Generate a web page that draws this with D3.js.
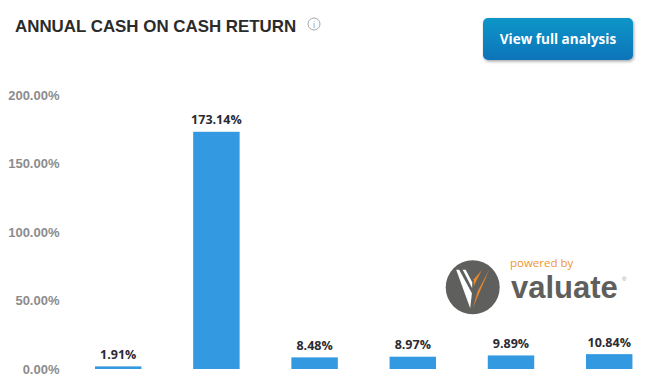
<!DOCTYPE html>
<html>
<head>
<meta charset="utf-8">
<script src="https://cdn.jsdelivr.net/npm/d3@7"></script>
<style>
  html, body { margin: 0; padding: 0; background: #fff; overflow: hidden; }
  text { font-family: "Liberation Sans", Arial, sans-serif; }
</style>
</head>
<body>
<div id="chart"></div>
<script>
// -------- Data --------
const periods = ['Year 1', 'Year 2', 'Year 3', 'Year 4', 'Year 5', 'Year 6'];
const returns = [1.91, 173.14, 8.48, 8.97, 9.89, 10.84];
const yTicks = [0, 50, 100, 150, 200];

// -------- Dimensions --------
const svgWidth = 646;
const svgHeight = 384;

const svg = d3.select('#chart')
  .append('svg')
    .attr('width', svgWidth)
    .attr('height', svgHeight);

// -------- Gradients --------
const defs = svg.append('defs');
const grad = defs.append('linearGradient')
    .attr('id', 'btn')
    .attr('x1', 0).attr('y1', 0).attr('x2', 0).attr('y2', 1);
grad.append('stop').attr('offset', '0%').attr('stop-color', '#1196c8');
grad.append('stop').attr('offset', '100%').attr('stop-color', '#0f74b9');

const shadow = defs.append('filter')
    .attr('id', 'btn-shadow')
    .attr('x', '-10%').attr('y', '-20%').attr('width', '120%').attr('height', '150%');
shadow.append('feDropShadow')
    .attr('dx', 1).attr('dy', 1.5)
    .attr('stdDeviation', 1.5)
    .attr('flood-color', '#000')
    .attr('flood-opacity', 0.35);

// -------- Scales --------
const xScale = d3.scaleBand()
  .domain(periods)
  .range([69.1, 658.3])
  .paddingInner(0.527)
  .paddingOuter(0.2635);

const yScale = d3.scaleLinear()
  .domain([0, 200])
  .range([369, 95]);

// -------- Title --------
svg.append('text')
    .attr('x', 15)
    .attr('y', 32)
    .attr('fill', '#2b2b2b')
    .style('font-size', '16.9px')
    .style('font-weight', 'bold')
    .text('ANNUAL CASH ON CASH RETURN');

// info icon
const info = svg.append('g').attr('transform', 'translate(314,24)');
info.append('circle')
    .attr('r', 6)
    .attr('fill', 'none')
    .attr('stroke', '#a5a5a5')
    .attr('stroke-width', 1);
info.append('text')
    .attr('text-anchor', 'middle')
    .attr('y', 3.5)
    .attr('fill', '#999')
    .style('font-size', '9px')
    .text('i');

// -------- Button --------
svg.append('rect')
    .attr('x', 483)
    .attr('y', 18)
    .attr('width', 150)
    .attr('height', 42)
    .attr('rx', 5)
    .attr('fill', 'url(#btn)')
    .attr('filter', 'url(#btn-shadow)');
svg.append('text')
    .attr('x', 558)
    .attr('y', 44)
    .attr('text-anchor', 'middle')
    .attr('fill', '#fff')
    .style('font-size', '13.5px')
    .style('font-weight', 'bold')
    .style('font-family', '"Open Sans", sans-serif')
    .text('View full analysis');

// -------- Y Axis --------
const yAxis = d3.axisLeft(yScale)
  .tickValues(yTicks)
  .tickSize(0)
  .tickPadding(0)
  .tickFormat(d => d3.format('.2f')(d) + '%');

const yAxisGroup = svg.append('g')
    .attr('transform', 'translate(59.5,0)')
    .call(yAxis);
yAxisGroup.select('.domain').remove();
yAxisGroup.selectAll('text')
    .attr('fill', '#8c8c8c')
    .style('font-size', '13px')
    .style('font-weight', 'bold')
    .style('font-family', '"Liberation Sans", Arial, sans-serif');

// -------- Bars --------
const bars = periods.map((p, i) => ({ period: p, value: returns[i] }));

svg.selectAll('rect.bar')
  .data(bars)
  .join('rect')
    .attr('class', 'bar')
    .attr('x', d => xScale(d.period))
    .attr('y', d => yScale(d.value))
    .attr('width', xScale.bandwidth())
    .attr('height', d => yScale(0) - yScale(d.value))
    .attr('fill', '#3399e0');

svg.selectAll('text.bar-label')
  .data(bars)
  .join('text')
    .attr('class', 'bar-label')
    .attr('x', d => xScale(d.period) + xScale.bandwidth() / 2)
    .attr('y', d => yScale(d.value) - 7.5)
    .attr('text-anchor', 'middle')
    .attr('fill', '#2b2b33')
    .style('font-size', '12.5px')
    .style('font-weight', 'bold')
    .style('font-family', '"Open Sans", sans-serif')
    .text(d => d.value.toFixed(2) + '%');

// -------- Valuate logo --------
const logo = svg.append('g').attr('transform', 'translate(472.7,287.3)');
logo.append('circle').attr('r', 27).attr('fill', '#5f5f5d');
logo.append('path').attr('d', 'M-16.5,-17.5 L-13.5,-17.5 L-0.8,6 L-2.5,21 Z').attr('fill', '#fff');
logo.append('path').attr('d', 'M-10,-17.5 L-7,-17.5 L-0.5,-5 L-0.5,1 Z').attr('fill', '#fff');
logo.append('path').attr('d', 'M9,-17 L1,-8 L1,-1 Z').attr('fill', '#e9862a');
logo.append('path').attr('d', 'M16.5,-17.5 L5,4 L0,21 Z').attr('fill', '#e9862a');

svg.append('text')
    .attr('x', 510)
    .attr('y', 267)
    .attr('fill', '#f2952f')
    .style('font-size', '11.5px')
    .style('font-family', '"Open Sans", sans-serif')
    .text('powered by');
svg.append('text')
    .attr('x', 511)
    .attr('y', 298)
    .attr('fill', '#5f5f5d')
    .style('font-size', '31px')
    .style('font-weight', 'bold')
    .text('valuate');
svg.append('text')
    .attr('x', 622)
    .attr('y', 281)
    .attr('fill', '#999')
    .style('font-size', '6px')
    .text('®');
</script>
</body>
</html>
